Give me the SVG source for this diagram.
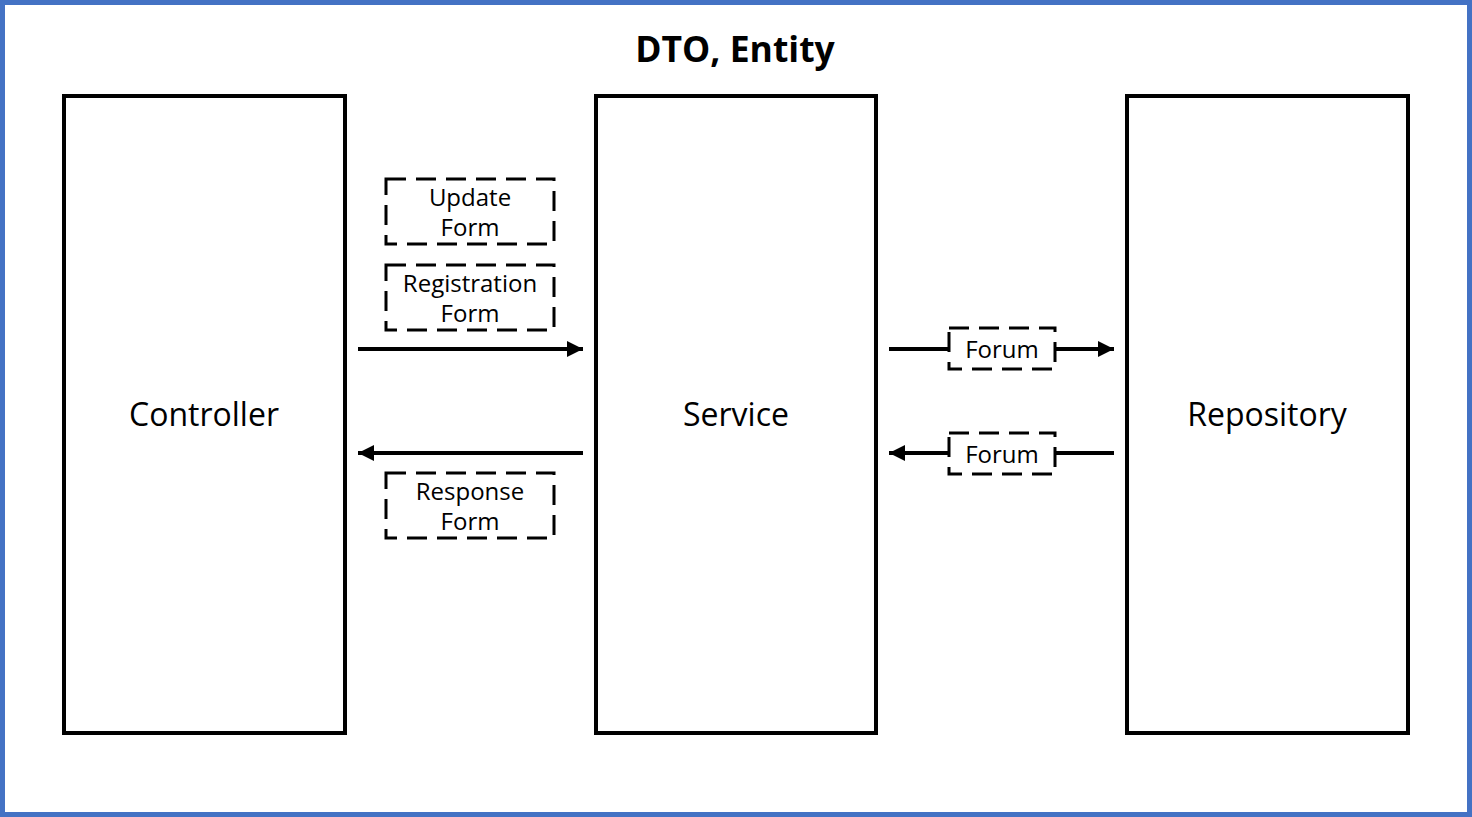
<svg xmlns="http://www.w3.org/2000/svg" width="1472" height="817" viewBox="0 0 1472 817">
<defs>
<style>
.main{fill:#fff;stroke:#000;stroke-width:4}
.dto{fill:#fff;stroke:#000;stroke-width:3;stroke-dasharray:20 10}
.lbl{font-family:"Open Sans","Noto Sans",sans-serif;font-size:32px;fill:#000;text-anchor:middle}
.sm{font-family:"Open Sans","Noto Sans",sans-serif;font-size:24px;fill:#000;text-anchor:middle}
.conn{stroke:#000;stroke-width:4;fill:none}
</style>
<marker id="ah" viewBox="0 0 10 10" refX="10" refY="5" markerWidth="4" markerHeight="4" orient="auto" markerUnits="strokeWidth">
<path d="M0,0 L10,5 L0,10 z" fill="#000"/>
</marker>
</defs>
<rect x="0" y="0" width="1472" height="817" fill="#fff"/>
<rect x="2.5" y="2.5" width="1467" height="812" fill="none" stroke="#4472C4" stroke-width="5"/>
<text x="735" y="62" font-family="'Open Sans','Noto Sans',sans-serif" font-size="35.5" font-weight="bold" text-anchor="middle">DTO, Entity</text>
<g id="controller"><rect class="main" x="64" y="96" width="281" height="637"/><text class="lbl" x="204" y="426">Controller</text></g>
<g id="service"><rect class="main" x="596" y="96" width="280" height="637"/><text class="lbl" x="736" y="426">Service</text></g>
<g id="repository"><rect class="main" x="1127" y="96" width="281" height="637"/><text class="lbl" x="1267" y="426">Repository</text></g>
<g id="connectors">
<line class="conn" x1="358" y1="349" x2="583" y2="349" marker-end="url(#ah)"/>
<line class="conn" x1="583" y1="453" x2="358" y2="453" marker-end="url(#ah)"/>
<line class="conn" x1="889" y1="349" x2="1114" y2="349" marker-end="url(#ah)"/>
<line class="conn" x1="1114" y1="453" x2="889" y2="453" marker-end="url(#ah)"/>
</g>
<g id="update-form"><rect class="dto" x="386" y="179" width="168" height="65"/><text class="sm" x="470" y="206">Update</text><text class="sm" x="470" y="236">Form</text></g>
<g id="registration-form"><rect class="dto" x="386" y="265" width="168" height="65"/><text class="sm" x="470" y="292">Registration</text><text class="sm" x="470" y="322">Form</text></g>
<g id="response-form"><rect class="dto" x="386" y="473" width="168" height="65"/><text class="sm" x="470" y="500">Response</text><text class="sm" x="470" y="530">Form</text></g>
<g id="forum-1"><rect class="dto" x="949" y="328" width="106" height="41"/><text class="sm" x="1002" y="358">Forum</text></g>
<g id="forum-2"><rect class="dto" x="949" y="433" width="106" height="41"/><text class="sm" x="1002" y="463">Forum</text></g>
</svg>
